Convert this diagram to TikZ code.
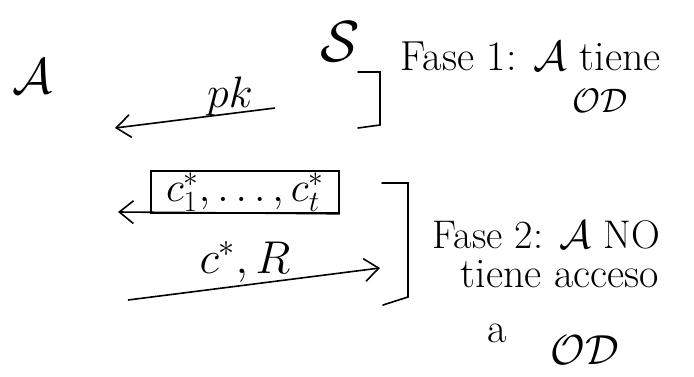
\RequirePackage{fix-cm}
\documentclass[tikz,border=0pt]{standalone}
\usepackage{amsmath, amssymb}
\usepackage{xcolor}
\usepackage{tikz}
\usetikzlibrary{positioning, arrows.meta}

\begin{document}
\begin{tikzpicture}[
  x=1pt, y=-1pt,
  line width=1.6pt,
  font=\fontsize{42}{48}\selectfont,
  party/.style  ={inner sep=0pt},
  msg/.style    ={inner sep=0pt},
  cipherbox/.style={rectangle, draw, minimum width=188pt,
                  minimum height=42pt, inner sep=0pt},
  phase/.style  ={inner sep=0pt, align=left, anchor=west},
  flow/.style   ={-{Straight Barb[length=5mm, width=8mm]}},
  brace/.style  ={line cap=round}
]
\useasboundingbox (0,0) rectangle (694,376);

% ---------- Parties ----------
\node[party, font=\fontsize{50}{54}\selectfont] (adv) at (32,76)  {$\mathcal{A}$};
\node[party, font=\fontsize{58}{62}\selectfont] (sch) at (340,42) {$\mathcal{S}$};

% ---------- Phase 1 ----------
\coordinate (pkstart) at (275,108);
\coordinate (pkend)   at (115,128);
\node[msg, font=\fontsize{44}{48}\selectfont] (pk) at (230,96) {$pk$};
\draw[flow] (pkstart) -- (pkend);

\coordinate (b1a) at (358,72);
\coordinate (b1b) at (380,72);
\coordinate (b1c) at (380,125);
\coordinate (b1d) at (358,128);
\draw[brace] (b1a) -- (b1b) -- (b1c) -- (b1d);

\node[phase] (fase1) at (400,56) {Fase 1: $\mathcal{A}$ tiene};
\node[msg, font=\fontsize{34}{38}\selectfont] (od1) at (600,101) {$\mathcal{O}\mathcal{D}$};

% ---------- Phase 2 ----------
\node[cipherbox, font=\fontsize{42}{46}\selectfont] (ctbox) at (245,192) {$c_1^{*},\ldots,c_t^{*}$};
\coordinate (ctend) at (118,212);
\draw[flow] (ctbox.south east) -- (ctend);

\coordinate (crstart) at (128,300);
\coordinate (crend)   at (380,268);
\node[msg, font=\fontsize{46}{50}\selectfont] (cr) at (245,262) {$c^{*}, R$};
\draw[flow] (crstart) -- (crend);

\coordinate (b2a) at (382,183);
\coordinate (b2b) at (408,183);
\coordinate (b2c) at (408,297);
\coordinate (b2d) at (383,305);
\draw[brace] (b2a) -- (b2b) -- (b2c) -- (b2d);

\node[phase, font=\fontsize{40}{44}\selectfont] (fase2)  at (432,235) {Fase 2: $\mathcal{A}$ NO};
\node[phase] (acceso) at (460,274) {tiene acceso};
\node[msg]   (prep)   at (497,333) {a};
\node[msg]   (od2)    at (585,350) {$\mathcal{O}\mathcal{D}$};

\end{tikzpicture}
\end{document}
